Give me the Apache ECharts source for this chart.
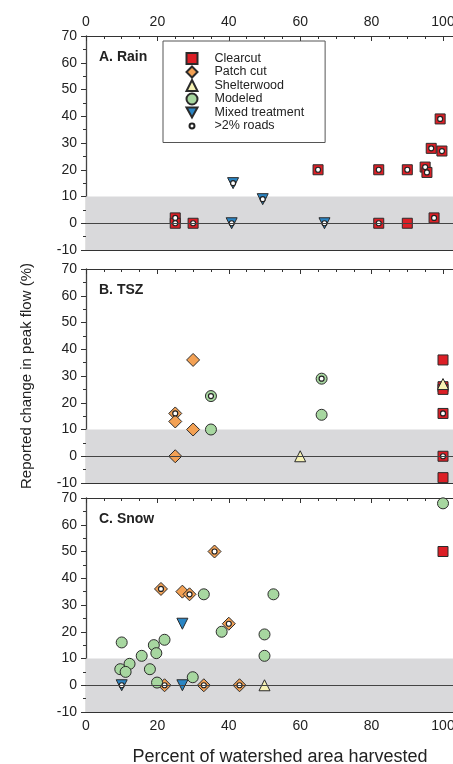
<!DOCTYPE html>
<html>
<head>
<meta charset="utf-8">
<script src="https://cdn.jsdelivr.net/npm/echarts@6/dist/echarts.min.js"></script>
<style>
  html, body { margin: 0; padding: 0; background: #fff; }
  #main { width: 453px; height: 764px; }
</style>
</head>
<body>
<div id="main"></div>
<script>
  // Data: [percent harvested, change in peak flow, >2% roads flag]
  var rainClearcut = [[25, 2, 1], [25, 0, 1], [30, 0, 1], [65, 20, 1], [82, 20, 1], [90, 20, 1], [95, 21, 1],
    [95.5, 19, 1], [96.7, 28, 1], [99.7, 27, 1], [99.2, 39, 1], [82, 0, 1], [90, 0, 0], [97.5, 2, 1]];
  var rainMixed = [[41.2, 15, 1], [49.5, 9, 1], [40.8, 0, 1], [66.8, 0, 1]];

  var tszPatch = [[30, 36, 0], [25, 16, 1], [25, 13, 0], [30, 10, 0], [25, 0, 0]];
  var tszModeled = [[35, 22.5, 1], [35, 10, 0], [66, 29, 1], [66, 15.5, 0]];
  var tszShelter = [[60, 0, 0], [100, 27, 0]];
  var tszClearcut = [[100, 36, 0], [100, 26, 0], [100, 25, 0], [100, 16, 1], [100, 0, 1], [100, -8, 0]];

  var snowModeled = [[100, 68, 0], [33, 34, 0], [52.5, 34, 0], [38, 20, 0], [50, 19, 0], [50, 11, 0], [10, 16, 0],
    [19, 15, 0], [22, 17, 0], [19.7, 12, 0], [15.6, 11, 0], [12.2, 8, 0], [9.6, 6, 0], [11.1, 5, 0],
    [17.9, 6, 0], [29.9, 3, 0], [19.9, 1, 0]];
  var snowClearcut = [[100, 50, 0]];
  var snowPatch = [[36, 50, 1], [21, 36, 1], [27, 35, 0], [29, 34, 1], [40, 23, 1], [22, 0, 1], [33, 0, 1], [43, 0, 1]];
  var snowMixed = [[27, 23, 0], [10, 0, 1], [27, 0, 0]];
  var snowShelter = [[50, 0, 0]];

  var panelNames = ['A. Rain', 'B. TSZ', 'C. Snow'];
  var xTicks = [0, 20, 40, 60, 80, 100];
  var yRange = [-10, 70];
  var band = [-10, 10];

  var panels = [
    { Clearcut: rainClearcut, 'Mixed treatment': rainMixed },
    { 'Patch cut': tszPatch, Modeled: tszModeled, Shelterwood: tszShelter, Clearcut: tszClearcut },
    { Modeled: snowModeled, Clearcut: snowClearcut, 'Patch cut': snowPatch, 'Mixed treatment': snowMixed, Shelterwood: snowShelter }
  ];

  var styles = {
    'Clearcut': { symbol: 'rect', size: 10, color: '#dc1f26', rotate: 0 },
    'Patch cut': { symbol: 'diamond', size: 13, color: '#f3a154', rotate: 0 },
    'Shelterwood': { symbol: 'triangle', size: 11, color: '#f6f2b4', rotate: 0 },
    'Modeled': { symbol: 'circle', size: 11, color: '#a7d7a0', rotate: 0 },
    'Mixed treatment': { symbol: 'triangle', size: 11, color: '#2a85c4', rotate: 180 }
  };
  var order = ['Clearcut', 'Patch cut', 'Shelterwood', 'Modeled', 'Mixed treatment'];

  var gridTops = [36, 269, 498];
  var gridH = 214;
  var axisColor = '#333';
  var labelFont = 'Liberation Sans, Arial, sans-serif';

  var grids = [], xAxes = [], yAxes = [], series = [], titles = [];

  gridTops.forEach(function (top, g) {
    // the frame runs past the right edge, as in the cropped original
    grids.push({ left: 86, width: 428.4, top: top, height: gridH, outerBoundsMode: 'none', containLabel: false });

    [['bottom', g === 2], ['top', g === 0]].forEach(function (pos) {
      xAxes.push({
        gridIndex: g,
        type: 'value',
        position: pos[0],
        min: 0, max: 120, interval: 20,
        axisLine: { onZero: false, lineStyle: { color: axisColor, width: 1 } },
        axisTick: { inside: true, length: 5, lineStyle: { color: axisColor } },
        minorTick: { show: true, splitNumber: 4, length: 3, lineStyle: { color: axisColor } },
        splitLine: { show: false },
        axisLabel: {
          show: pos[1], margin: 7, fontSize: 14, color: '#222', fontFamily: labelFont,
          formatter: function (v) { return xTicks.indexOf(v) >= 0 ? String(v) : ''; }
        }
      });
    });

    yAxes.push({
      gridIndex: g,
      type: 'value',
      min: yRange[0], max: yRange[1], interval: 10,
      name: g === 1 ? 'Reported change in peak flow (%)' : '',
      nameLocation: 'middle', nameGap: 52,
      nameTextStyle: { fontSize: 15, color: '#222', fontFamily: labelFont },
      axisLine: { onZero: false, lineStyle: { color: '#444', width: 1.3 } },
      axisTick: { inside: false, length: 5, lineStyle: { color: axisColor } },
      minorTick: { show: true, splitNumber: 2, length: 3, lineStyle: { color: axisColor } },
      splitLine: { show: false },
      axisLabel: { margin: 9, fontSize: 14, color: '#222', fontFamily: labelFont }
    });

    // shaded +/-10 band and zero line
    series.push({
      type: 'line', data: [], xAxisIndex: g * 2, yAxisIndex: g, z: 1, silent: true,
      markArea: { silent: true, itemStyle: { color: '#d9d9db' }, data: [[{ yAxis: band[0] }, { yAxis: band[1] }]] },
      markLine: { silent: true, symbol: 'none', label: { show: false },
        lineStyle: { color: '#444', width: 1, type: 'solid' }, data: [{ yAxis: 0 }] }
    });

    var roads = [];
    order.forEach(function (name) {
      var pts = panels[g][name];
      if (!pts) return;
      var st = styles[name];
      series.push({
        name: name, type: 'scatter', xAxisIndex: g * 2, yAxisIndex: g, z: 3,
        symbol: st.symbol, symbolSize: st.size, symbolRotate: st.rotate,
        itemStyle: { color: st.color, borderColor: '#2b2b2b', borderWidth: 1, opacity: 1 },
        data: pts.map(function (p) { return [p[0], p[1]]; })
      });
      pts.forEach(function (p) { if (p[2]) roads.push([p[0], p[1]]); });
    });
    series.push({
      name: '>2% roads', type: 'scatter', xAxisIndex: g * 2, yAxisIndex: g, z: 4,
      symbol: 'circle', symbolSize: 5,
      itemStyle: { color: '#ffffff', borderColor: '#222', borderWidth: 1.2, opacity: 1 },
      data: roads
    });

    titles.push({
      text: panelNames[g], left: 94, top: top + 9,
      textStyle: { fontSize: 14, fontWeight: 'bold', color: '#222', fontFamily: labelFont }
    });
  });

  titles.push({
    text: 'Percent of watershed area harvested', left: 275, top: 743, textAlign: 'center',
    textStyle: { fontSize: 18, fontWeight: 'normal', color: '#222', fontFamily: labelFont }
  });

  var legendData = order.map(function (n) {
    if (n === 'Mixed treatment') return { name: n, icon: 'path://M1,2L19,2L10,18Z' };
    return { name: n };
  });
  legendData.push({ name: '>2% roads', icon: 'path://M0,0L0,0M20,20L20,20M5.5,10A4.5,4.5,0,1,1,14.5,10A4.5,4.5,0,1,1,5.5,10Z' });

  var myChart = echarts.init(document.getElementById('main'));
  myChart.setOption({
    animation: false,
    title: titles,
    grid: grids,
    xAxis: xAxes,
    yAxis: yAxes,
    legend: {
      data: legendData,
      orient: 'vertical',
      left: 163, top: 41,
      padding: [11, 21, 10, 22.5],
      itemWidth: 11, itemHeight: 11, itemGap: 0.5,
      backgroundColor: '#fff',
      borderColor: '#555', borderWidth: 1,
      selectedMode: false,
      textStyle: { fontSize: 12.5, lineHeight: 13, color: '#222', fontFamily: labelFont, padding: [0, 0, 0, 12] }
    },
    series: series
  });
</script>
</body>
</html>
